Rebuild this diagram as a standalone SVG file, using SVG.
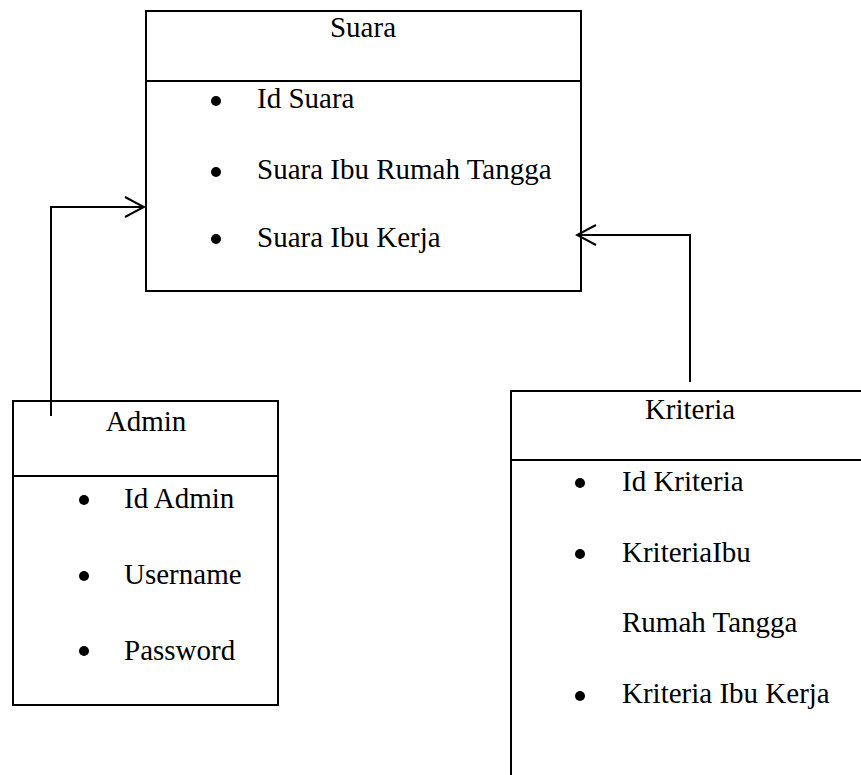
<svg xmlns="http://www.w3.org/2000/svg" width="861" height="775" viewBox="0 0 861 775">
  <defs>
    <marker id="open-arrow" viewBox="0 0 22 22" refX="20" refY="11" markerWidth="22" markerHeight="22" markerUnits="userSpaceOnUse" orient="auto">
      <path d="M1,1 L20,11 L1,21" fill="none" stroke="#000" stroke-width="2"/>
    </marker>
  </defs>
  <style>
    .box { fill: #fff; stroke: #000; stroke-width: 2; }
    .div { stroke: #000; stroke-width: 2; }
    .txt { font-family: "Liberation Serif", "Times New Roman", serif; font-size: 29px; fill: #000; }
    .title { text-anchor: middle; }
    .dot { fill: #000; }
    .conn { fill: none; stroke: #000; stroke-width: 2; }
  </style>
  <rect width="861" height="775" fill="#fff"/>

  <g id="suara">
    <rect class="box" x="146" y="11" width="435" height="280"/>
    <line class="div" x1="146" y1="81" x2="581" y2="81"/>
    <text class="txt title" x="363" y="37">Suara</text>
    <circle class="dot" cx="216" cy="101" r="5"/>
    <text class="txt" x="257" y="108">Id Suara</text>
    <circle class="dot" cx="216" cy="172" r="5"/>
    <text class="txt" x="257" y="179">Suara Ibu Rumah Tangga</text>
    <circle class="dot" cx="216" cy="239" r="5"/>
    <text class="txt" x="257" y="247">Suara Ibu Kerja</text>
  </g>

  <g id="admin">
    <rect class="box" x="13" y="401" width="265" height="304"/>
    <line class="div" x1="13" y1="476" x2="278" y2="476"/>
    <text class="txt title" x="146" y="431">Admin</text>
    <circle class="dot" cx="84" cy="500" r="5"/>
    <text class="txt" x="124" y="508">Id Admin</text>
    <circle class="dot" cx="84" cy="576" r="5"/>
    <text class="txt" x="124" y="584">Username</text>
    <circle class="dot" cx="84" cy="651" r="5"/>
    <text class="txt" x="124" y="660">Password</text>
  </g>

  <g id="kriteria">
    <rect class="box" x="511" y="391" width="370" height="420"/>
    <line class="div" x1="511" y1="460" x2="861" y2="460"/>
    <text class="txt title" x="690" y="419">Kriteria</text>
    <circle class="dot" cx="580" cy="483" r="5"/>
    <text class="txt" x="622" y="491">Id Kriteria</text>
    <circle class="dot" cx="580" cy="554" r="5"/>
    <text class="txt" x="622" y="562">KriteriaIbu</text>
    <text class="txt" x="622" y="632">Rumah Tangga</text>
    <circle class="dot" cx="580" cy="696" r="5"/>
    <text class="txt" x="622" y="703">Kriteria Ibu Kerja</text>
  </g>

  <g id="connectors">
    <path class="conn" d="M51,416 L51,207 L144,207" marker-end="url(#open-arrow)"/>
    <path class="conn" d="M690,382 L690,235 L577,235" marker-end="url(#open-arrow)"/>
  </g>
</svg>
